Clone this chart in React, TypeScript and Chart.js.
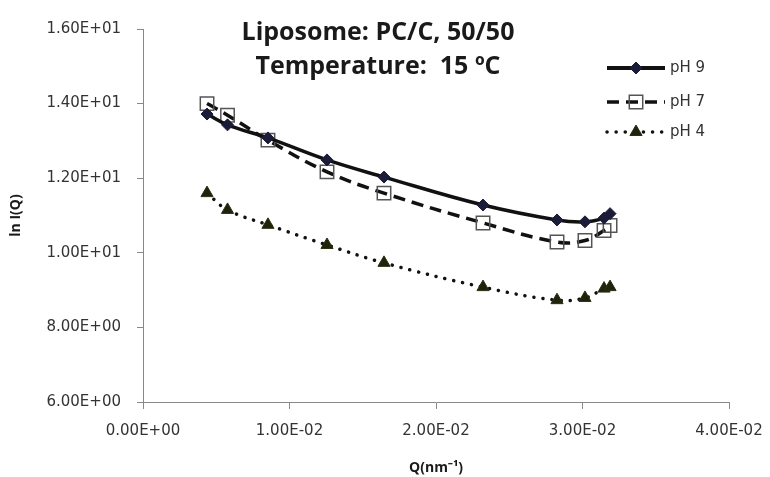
import React, { useEffect, useRef } from "react";
import { Chart, registerables } from "chart.js";

Chart.register(...registerables);

const qValues = [0.00437, 0.00577, 0.00853, 0.01256, 0.01645, 0.02321, 0.02826, 0.03017, 0.03147, 0.03188];
const ph9Values = [13.72, 13.43, 13.08, 12.49, 12.03, 11.28, 10.88, 10.83, 10.93, 11.05];
const ph7Values = [14.0, 13.69, 13.02, 12.17, 11.6, 10.8, 10.29, 10.33, 10.6, 10.73];
const ph4Values = [11.6, 11.15, 10.75, 10.21, 9.73, 9.08, 8.73, 8.79, 9.04, 9.08];
const seriesLabels = ["pH 9", "pH 7", "pH 4"];
const titleLines = ["Liposome: PC/C, 50/50", "Temperature:  15 ºC"];
const xAxisTitle = "Q(nm⁻¹)";
const yAxisTitle = "ln I(Q)";

const fmtExp = (v: number) => {
  if (v === 0) return "0.00E+00";
  const s = v.toExponential(2).toUpperCase();
  const [m, e] = s.split("E");
  const sign = e[0] === "-" ? "-" : "+";
  const digits = e.replace(/[+-]/, "").padStart(2, "0");
  return `${m}E${sign}${digits}`;
};

const FONT = "'Open Sans', 'Liberation Sans', sans-serif";
const TICK_FONT = "'DejaVu Sans', sans-serif";

function drawMarker(ctx: CanvasRenderingContext2D, style: string, x: number, y: number, r: number) {
  ctx.beginPath();
  if (style === "rectRot") {
    ctx.moveTo(x, y - r);
    ctx.lineTo(x + r, y);
    ctx.lineTo(x, y + r);
    ctx.lineTo(x - r, y);
    ctx.closePath();
    ctx.fill();
    ctx.stroke();
  } else if (style === "rect") {
    const s = r * Math.SQRT1_2;
    ctx.rect(x - s, y - s, 2 * s, 2 * s);
    ctx.stroke();
  } else {
    ctx.moveTo(x, y - r);
    ctx.lineTo(x + r * 0.87, y + r * 0.5);
    ctx.lineTo(x - r * 0.87, y + r * 0.5);
    ctx.closePath();
    ctx.fill();
    ctx.stroke();
  }
}

const overlayPlugin = {
  id: "overlay",
  afterDraw(chart: any) {
    const { ctx, chartArea } = chart;
    ctx.save();
    // Title
    ctx.fillStyle = "#1a1a1a";
    ctx.textAlign = "center";
    ctx.textBaseline = "middle";
    ctx.font = `bold 25px ${FONT}`;
    const cx = 378;
    ctx.fillText(titleLines[0], cx, chartArea.top + 4);
    ctx.fillText(titleLines[1], cx, chartArea.top + 38);

    // Legend
    const x0 = 607;
    const x1 = 665;
    const rows = [chartArea.top + 39, chartArea.top + 73, chartArea.top + 103];
    chart.data.datasets.forEach((ds: any, i: number) => {
      const y = rows[i];
      ctx.save();
      ctx.strokeStyle = ds.borderColor;
      ctx.lineWidth = i === 0 ? 4 : ds.borderWidth;
      ctx.lineCap = ds.borderCapStyle || "butt";
      ctx.setLineDash(ds.borderDash || []);
      ctx.beginPath();
      ctx.moveTo(x0, y);
      ctx.lineTo(x1, y);
      ctx.stroke();
      ctx.restore();
      const meta = chart.getDatasetMeta(i);
      const el = meta.data[0];
      if (el) {
        const opts = el.options;
        ctx.save();
        const px = (x0 + x1) / 2;
        ctx.fillStyle = opts.backgroundColor;
        ctx.strokeStyle = opts.borderColor;
        ctx.lineWidth = opts.borderWidth;
        drawMarker(ctx, opts.pointStyle, px, y, opts.radius);
        ctx.restore();
      }
      ctx.fillStyle = "#333";
      ctx.textAlign = "left";
      ctx.textBaseline = "middle";
      ctx.font = `15px ${TICK_FONT}`;
      ctx.fillText(ds.label, x1 + 5, y);
    });
    ctx.restore();
  },
};

export default function App() {
  const ref = useRef<HTMLCanvasElement | null>(null);
  useEffect(() => {
    document.body.style.margin = "0";
    const mk = (vals: number[]) => qValues.map((q, i) => ({ x: q, y: vals[i] }));
    const chart = new Chart(ref.current!, {
      type: "line",
      data: {
        datasets: [
          {
            label: seriesLabels[0],
            data: mk(ph9Values),
            borderColor: "#111111",
            borderWidth: 3.5,
            pointStyle: "rectRot",
            pointRadius: 6,
            pointBackgroundColor: "#1b1d38",
            pointBorderColor: "#1b1d38",
            pointBorderWidth: 1,
            tension: 0.4,
          },
          {
            label: seriesLabels[1],
            data: mk(ph7Values),
            borderColor: "#111111",
            borderWidth: 3.5,
            borderDash: [12, 7],
            pointStyle: "rect",
            pointRadius: 9.5,
            pointBackgroundColor: "rgba(0,0,0,0)",
            pointBorderColor: "#555555",
            pointBorderWidth: 1.5,
            tension: 0.4,
          },
          {
            label: seriesLabels[2],
            data: mk(ph4Values),
            borderColor: "#111111",
            borderWidth: 3.5,
            borderDash: [0.1, 9],
            borderCapStyle: "round",
            pointStyle: "triangle",
            pointRadius: 7,
            pointBackgroundColor: "#1e230c",
            pointBorderColor: "#2a3010",
            pointBorderWidth: 1,
            tension: 0.4,
          },
        ],
      },
      options: {
        animation: false,
        responsive: false,
        maintainAspectRatio: false,
        layout: { padding: { top: 29, right: 41, left: 0, bottom: 0 } },
        plugins: {
          legend: { display: false },
          title: { display: false },
          tooltip: { enabled: false },
        },
        scales: {
          x: {
            type: "linear",
            min: 0,
            max: 0.04,
            afterFit: (s: any) => { s.height = 75; s.paddingRight = 0; s.paddingLeft = 0; },
            ticks: {
              stepSize: 0.01,
              callback: (v: any) => fmtExp(Number(v)),
              color: "#333",
              font: { family: TICK_FONT, size: 15 },
              padding: 13,
              maxRotation: 0,
            },
            grid: { display: true, drawOnChartArea: false, tickLength: 7, color: "#888" },
            border: { color: "#888", width: 1 },
            title: {
              display: true,
              text: xAxisTitle,
              color: "#1a1a1a",
              font: { family: FONT, size: 14, weight: "bold" },
              padding: { top: 0, bottom: 1 },
            },
          },
          y: {
            min: 6,
            max: 16,
            afterFit: (s: any) => { s.width = 143; s.paddingTop = 0; s.paddingBottom = 0; },
            ticks: {
              stepSize: 2,
              callback: (v: any) => fmtExp(Number(v)),
              color: "#333",
              font: { family: TICK_FONT, size: 15 },
              padding: 16,
            },
            grid: { display: true, drawOnChartArea: false, tickLength: 6, color: "#888" },
            border: { color: "#888", width: 1 },
            title: {
              display: true,
              text: yAxisTitle,
              color: "#1a1a1a",
              font: { family: FONT, size: 14, weight: "bold" },
              padding: { top: 8, bottom: 0 },
            },
          },
        },
      } as any,
      plugins: [overlayPlugin],
    });
    return () => chart.destroy();
  }, []);
  return (
    <div style={{ width: 770, height: 477, position: "relative", background: "#fff" }}>
      <canvas ref={ref} width={770} height={477} style={{ width: 770, height: 477, display: "block" }} />
    </div>
  );
}
